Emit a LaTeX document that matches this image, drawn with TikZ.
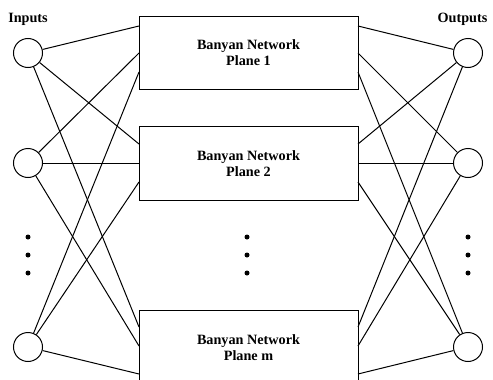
\documentclass[tikz,border=0pt]{standalone}
\usepackage{fontspec}
\setmainfont{Liberation Serif}
\begin{document}
\begin{tikzpicture}[x=1pt,y=-1pt,
  port/.style={circle,draw,line width=1pt,minimum size=29pt,inner sep=0pt},
  plane/.style={rectangle,draw,line width=1pt,minimum width=219pt,minimum height=73.5pt,inner sep=0pt,align=center,font=\fontsize{14.2}{16}\selectfont\bfseries},
  lbl/.style={font=\fontsize{14.2}{16}\selectfont\bfseries,inner sep=0pt,anchor=base},
  wire/.style={line width=1pt},
  bigdot/.style={circle,fill,minimum size=5pt,inner sep=0pt}]
\useasboundingbox (0,0) rectangle (493,380);
\clip (0,0) rectangle (493,380);

% labels
\node[lbl] (inlbl) at (28,22.7) {Inputs};
\node[lbl] (outlbl) at (462.5,22.7) {Outputs};

% ports
\node[port] (in1) at (28,53) {};
\node[port] (in2) at (28,163) {};
\node[port] (in3) at (28,347) {};
\node[port] (out1) at (468,53) {};
\node[port] (out2) at (468,163) {};
\node[port] (out3) at (468,347) {};

% planes
\node[plane] (b1) at (248.5,53) {Banyan Network\\Plane 1};
\node[plane] (b2) at (248.5,163.5) {Banyan Network\\Plane 2};
\node[plane] (b3) at (248.5,347.5) {Banyan Network\\Plane m};

% attachment points
\coordinate (L11) at (139,26);  \coordinate (L12) at (139,53);  \coordinate (L13) at (139,72);
\coordinate (L21) at (139,144); \coordinate (L22) at (139,163); \coordinate (L23) at (139,182);
\coordinate (L31) at (139,327); \coordinate (L32) at (139,346); \coordinate (L33) at (139,374);
\coordinate (R11) at (358,26);  \coordinate (R12) at (358,53);  \coordinate (R13) at (358,72);
\coordinate (R21) at (358,144); \coordinate (R22) at (358,163); \coordinate (R23) at (358,182);
\coordinate (R31) at (358,327); \coordinate (R32) at (358,346); \coordinate (R33) at (358,374);

\foreach \i in {1,2,3}{
  \foreach \j in {1,2,3}{
    \draw[wire] (in\i) -- (L\j\i);
    \draw[wire] (out\i) -- (R\j\i);
  }
}

% ellipsis dots
\foreach \y [count=\k] in {237,255,273}{
  \node[bigdot] (dl\k) at (28,\y) {};
  \node[bigdot] (dm\k) at (247,\y) {};
  \node[bigdot] (dr\k) at (468,\y) {};
}
\end{tikzpicture}
\end{document}
